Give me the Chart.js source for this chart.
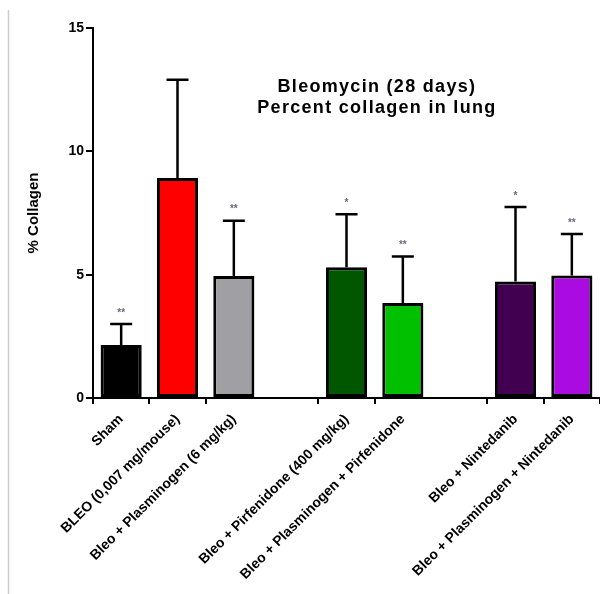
<!DOCTYPE html>
<html>
<head>
<meta charset="utf-8">
<script src="https://cdn.jsdelivr.net/npm/chart.js@4/dist/chart.umd.min.js"></script>
<style>
  body { margin: 0; background: #fff; }
</style>
</head>
<body>
<canvas id="chart1" width="600" height="594"></canvas>
<script>
// groups separated by blank categories
const groups = ['Sham', 'BLEO (0,007 mg/mouse)', 'Bleo + Plasminogen (6 mg/kg)', '',
  'Bleo + Pirfenidone (400 mg/kg)', 'Bleo + Plasminogen + Pirfenidone', '',
  'Bleo + Nintedanib', 'Bleo + Plasminogen + Nintedanib'];
const collagen = [2.15, 8.92, 4.95, null, 5.3, 3.85, null, 4.72, 4.97];
const sd = [0.85, 3.98, 2.24, null, 2.15, 1.89, null, 3.02, 1.68];
const stars = ['**', '', '**', '', '*', '**', '', '*', '**'];
const barColors = ['#000000', '#ff0000', '#a0a0a4', '#ffffff', '#005700', '#00c000', '#ffffff', '#410050', '#aa0be0'];
const yTicks = [0, 5, 10, 15];

const FONT = "'Liberation Sans', Arial, sans-serif";

const errorBars = {
  id: 'errorBars',
  afterDatasetsDraw(chart) {
    const ctx = chart.ctx;
    const y = chart.scales.y;
    const meta = chart.getDatasetMeta(0);
    ctx.save();
    meta.data.forEach(function (bar, i) {
      if (collagen[i] === null) return;
      const top = y.getPixelForValue(collagen[i] + sd[i]);
      ctx.strokeStyle = '#000';
      ctx.lineWidth = 2.5;
      ctx.beginPath();
      ctx.moveTo(bar.x, bar.y);
      ctx.lineTo(bar.x, top);
      ctx.moveTo(bar.x - 11, top);
      ctx.lineTo(bar.x + 11, top);
      ctx.stroke();
      if (stars[i]) {
        ctx.fillStyle = '#6a6a7a';
        ctx.font = 'bold 10px ' + FONT;
        ctx.letterSpacing = '0px';
        ctx.textAlign = 'center';
        ctx.textBaseline = 'bottom';
        ctx.fillText(stars[i], bar.x, top - 6);
      }
    });
    ctx.restore();
  }
};

const decorations = {
  id: 'decorations',
  beforeDraw(chart) {
    const ctx = chart.ctx;
    ctx.save();
    ctx.strokeStyle = '#cccccc';
    ctx.lineWidth = 1.5;
    ctx.beginPath();
    ctx.moveTo(8.5, 10);
    ctx.lineTo(8.5, chart.height);
    ctx.stroke();
    ctx.restore();
  },
  afterDraw(chart) {
    const ctx = chart.ctx;
    const a = chart.chartArea;
    const cx = a.left + a.width * 0.56;
    ctx.save();
    ctx.fillStyle = '#000';
    ctx.font = 'bold 18px ' + FONT;
    ctx.letterSpacing = '1.3px';
    ctx.textAlign = 'center';
    ctx.textBaseline = 'middle';
    ctx.fillText('Bleomycin (28 days)', cx, a.top + 59);
    ctx.fillText('Percent collagen in lung', cx, a.top + 80);
    ctx.restore();
  }
};

const ctx1 = document.getElementById('chart1').getContext('2d');
ctx1.letterSpacing = '0.7px';
const chart1 = new Chart(ctx1, {
  type: 'bar',
  data: {
    labels: groups,
    datasets: [{
      data: collagen,
      backgroundColor: barColors,
      borderColor: '#000',
      borderWidth: 3,
      borderSkipped: false,
      categoryPercentage: 1,
      barPercentage: 0.73
    }]
  },
  options: {
    responsive: false,
    animation: false,
    layout: { padding: { top: 28, right: 0, left: 0, bottom: 0 } },
    plugins: {
      legend: { display: false },
      tooltip: { enabled: false }
    },
    scales: {
      x: {
        afterFit(scale) { scale.height = 196; },
        grid: {
          drawOnChartArea: false,
          tickLength: 6,
          lineWidth: 2,
          tickColor: c => (c.tick && c.tick.label === '') ? 'rgba(0,0,0,0)' : '#000'
        },
        border: { color: '#000', width: 2 },
        ticks: {
          autoSkip: false,
          maxRotation: 45,
          minRotation: 45,
          padding: 7,
          color: '#000',
          font: { family: FONT, size: 14, weight: 'bold' }
        }
      },
      y: {
        min: 0,
        max: 15,
        afterFit(scale) { scale.width = 93; },
        afterBuildTicks(scale) { scale.ticks = yTicks.map(v => ({ value: v })); },
        grid: { drawOnChartArea: false, tickLength: 7, lineWidth: 2, tickColor: '#000' },
        border: { color: '#000', width: 2 },
        ticks: {
          padding: 2,
          color: '#000',
          font: { family: FONT, size: 14, weight: 'bold' }
        },
        title: {
          display: true,
          text: '% Collagen',
          color: '#000',
          padding: { top: 25 },
          font: { family: FONT, size: 15, weight: 'bold' }
        }
      }
    }
  },
  plugins: [errorBars, decorations]
});
</script>
</body>
</html>
